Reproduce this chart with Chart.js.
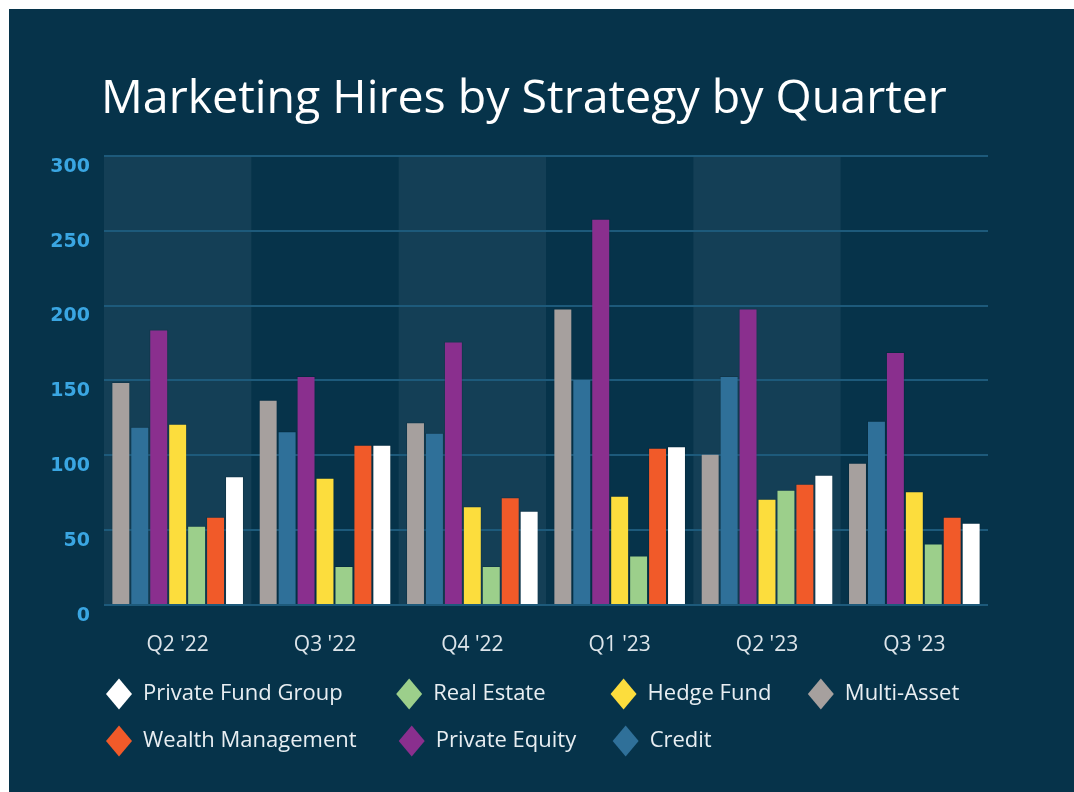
<!DOCTYPE html>
<html><head><meta charset="utf-8">
<script src="https://cdn.jsdelivr.net/npm/chart.js@4"></script>
<style>
html,body{margin:0;padding:0;background:#fff;}
#wrap{position:absolute;left:9px;top:9px;width:1065px;height:783px;background:#06334a;}
canvas{display:block;}
</style></head><body>
<div id="wrap"><canvas id="c" width="1065" height="783"></canvas></div>
<script>
const quarters = ["Q2 '22", "Q3 '22", "Q4 '22", "Q1 '23", "Q2 '23", "Q3 '23"];
const multiAsset       = [149, 137, 122, 198, 101, 95];
const credit           = [119, 116, 115, 151, 153, 123];
const privateEquity    = [184, 153, 176, 258, 198, 169];
const hedgeFund        = [121, 85, 66, 73, 71, 76];
const realEstate       = [53, 26, 26, 33, 77, 41];
const wealthManagement = [59, 107, 72, 105, 81, 59];
const privateFundGroup = [86, 107, 63, 106, 87, 55];
const yTicks = {min: 0, max: 300, step: 50};
const legendOrder = ['Private Fund Group', 'Real Estate', 'Hedge Fund', 'Multi-Asset', 'Wealth Management', 'Private Equity', 'Credit'];
const shadedBands = [0, 2, 4];

const colTextWidths = [229, 152, 136];
const legendFont = {family: 'Open Sans', size: 22};

const bandPlugin = {
  id: 'bands',
  beforeDraw(chart) {
    const {ctx, chartArea: a, scales: {x}} = chart;
    const w = x.getPixelForValue(1) - x.getPixelForValue(0);
    ctx.save();
    ctx.fillStyle = '#143f56';
    shadedBands.forEach(i => {
      const cx = x.getPixelForValue(i);
      ctx.fillRect(cx - w / 2, a.top, w, a.bottom - a.top);
    });
    ctx.restore();
  }
};
const shiftPlugin = {
  id: 'shift',
  afterLayout(chart) {
    const t = chart.titleBlock;
    if (t) { t.left += 50; t.right += 50; }
    const l = chart.legend;
    if (l) { l.left += 30; l.right += 30; }
  }
};

function ds(label, data, color) {
  return {label, data, backgroundColor: color, borderColor: 'rgba(0,0,0,0.12)', borderWidth: 1,
          categoryPercentage: 0.9, barPercentage: 1.0};
}

const chart = new Chart(document.getElementById('c'), {
  type: 'bar',
  data: {
    labels: quarters,
    datasets: [
      ds('Multi-Asset', multiAsset, '#a6a09e'),
      ds('Credit', credit, '#2f7099'),
      ds('Private Equity', privateEquity, '#8a2f8e'),
      ds('Hedge Fund', hedgeFund, '#fcdd3d'),
      ds('Real Estate', realEstate, '#9ccf8b'),
      ds('Wealth Management', wealthManagement, '#f15a29'),
      ds('Private Fund Group', privateFundGroup, '#ffffff')
    ]
  },
  options: {
    responsive: false,
    animation: false,
    devicePixelRatio: 1,
    layout: {padding: {left: 42, right: 86, top: 0, bottom: 30}},
    plugins: {
      tooltip: {enabled: false},
      title: {
        display: true,
        text: 'Marketing Hires by Strategy by Quarter',
        align: 'start',
        color: '#ffffff',
        font: {family: 'Open Sans', size: 46.5, weight: 'normal'},
        padding: {top: 63, bottom: 28}
      },
      legend: {
        position: 'bottom',
        align: 'start',
        labels: {
          usePointStyle: true,
          pointStyle: 'rectRot',
          pointStyleWidth: 26,
          padding: 25,
          color: '#e8eef2',
          font: legendFont,
          sort: (a, b) => legendOrder.indexOf(a.datasetLabel) - legendOrder.indexOf(b.datasetLabel),
          generateLabels(chart) {
            const items = Chart.defaults.plugins.legend.labels.generateLabels(chart);
            const ctx = chart.ctx;
            ctx.save();
            ctx.font = legendFont.size + 'px "' + legendFont.family + '"';
            items.forEach(it => {
              const label = chart.data.datasets[it.datasetIndex].label;
              it.datasetLabel = label;
              it.lineWidth = 0;
              it.strokeStyle = 'rgba(0,0,0,0)';
              const col = legendOrder.indexOf(label) % 4;
              let text = label;
              if (col < 3) {
                const target = colTextWidths[col];
                while (ctx.measureText(text + ' ').width <= target + 2) text += ' ';
              }
              it.text = text;
            });
            ctx.restore();
            return items;
          }
        }
      }
    },
    scales: {
      x: {
        grid: {display: false},
        border: {display: false},
        ticks: {color: '#dde5ea', font: {family: 'Open Sans', size: 21}, padding: 19},
        afterFit: (s) => { s.height = 53; }
      },
      y: {
        min: yTicks.min,
        max: yTicks.max,
        grid: {color: '#1d5a7b', lineWidth: 2, drawTicks: false},
        border: {display: false},
        ticks: {stepSize: yTicks.step, color: '#3aa6e2', font: {family: 'DejaVu Sans', size: 19, weight: 'bold'}, padding: 14, labelOffset: 11},
        afterFit: (s) => { s.width = 53; }
      }
    }
  },
  plugins: [bandPlugin, shiftPlugin]
});
</script>
</body></html>
